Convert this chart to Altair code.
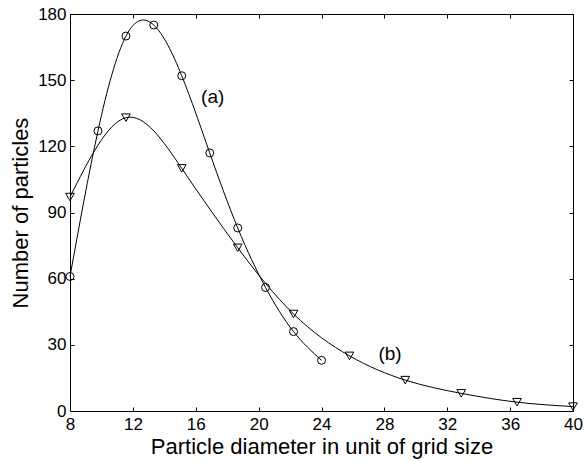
import altair as alt
import pandas as pd

# Series (a): circles
xa = [8, 9.78, 11.56, 13.33, 15.11, 16.89, 18.67, 20.44, 22.22, 24]
ya = [61, 127, 170, 175, 152, 117, 83, 56, 36, 23]
# Series (b): downward triangles
xb = [8, 11.56, 15.11, 18.67, 22.22, 25.78, 29.33, 32.89, 36.44, 40]
yb = [97, 133, 110, 74, 44, 25, 14, 8, 4, 2]

x_ticks = [8, 12, 16, 20, 24, 28, 32, 36, 40]
y_ticks = [0, 30, 60, 90, 120, 150, 180]

label_text = ["(a)", "(b)"]
label_x = [17.08, 28.36]
label_y = [142.5, 25.8]

FONT = "Liberation Sans"

df_a = pd.DataFrame({"x": xa, "y": ya})
df_b = pd.DataFrame({"x": xb, "y": yb})
df_lab = pd.DataFrame({"x": label_x, "y": label_y, "t": label_text})

xscale = alt.Scale(domain=[8, 40], nice=False, zero=False)
yscale = alt.Scale(domain=[0, 180], nice=False)

x_main = alt.X("x:Q", scale=xscale, title="Particle diameter in unit of grid size",
               axis=alt.Axis(values=x_ticks, orient="bottom", offset=-4, tickSize=4,
                             domain=False, grid=False, tickColor="black",
                             labelFont=FONT, labelFontSize=17, labelColor="black",
                             labelPadding=5, labelFlush=False,
                             titleFont=FONT, titleFontSize=22, titleFontWeight="normal",
                             titleColor="black", titlePadding=4))
y_main = alt.Y("y:Q", scale=yscale, title="Number of particles",
               axis=alt.Axis(values=y_ticks, orient="left", offset=-4, tickSize=4,
                             domain=False, grid=False, tickColor="black",
                             labelFont=FONT, labelFontSize=17, labelColor="black",
                             labelPadding=4, labelFlush=False,
                             titleFont=FONT, titleFontSize=22, titleFontWeight="normal",
                             titleColor="black", titlePadding=5))

x_plain = alt.X("x:Q", scale=xscale, axis=None)
y_plain = alt.Y("y:Q", scale=yscale, axis=None)

line_a = alt.Chart(df_a).mark_line(color="black", strokeWidth=1, interpolate="natural").encode(x=x_main, y=y_main)
pts_a = alt.Chart(df_a).mark_point(shape="circle", filled=False, color="black", size=64, strokeWidth=1, opacity=1).encode(x=x_plain, y=y_plain)
line_b = alt.Chart(df_b).mark_line(color="black", strokeWidth=1, interpolate="natural").encode(x=x_plain, y=y_plain)
pts_b = alt.Chart(df_b).mark_point(shape="triangle-down", filled=False, color="black", size=75, strokeWidth=1, opacity=1).encode(x=x_plain, y=y_plain)
labels = alt.Chart(df_lab).mark_text(font=FONT, fontSize=19, color="black", align="center", baseline="middle").encode(
    x=x_plain, y=y_plain, text="t:N")

frame_axes = alt.Chart(df_a).mark_point(opacity=0).encode(
    x=alt.X("x:Q", scale=xscale,
            axis=alt.Axis(values=x_ticks, orient="top", offset=-4, tickSize=4, domain=False,
                          grid=False, labels=False, title=None, tickColor="black")),
    y=alt.Y("y:Q", scale=yscale,
            axis=alt.Axis(values=y_ticks, orient="right", offset=-4, tickSize=4, domain=False,
                          grid=False, labels=False, title=None, tickColor="black")),
)

chart = alt.layer(line_a, pts_a, line_b, pts_b, labels, frame_axes).resolve_axis(
    x="independent", y="independent"
).properties(
    width=503, height=397,
    autosize=alt.AutoSizeParams(type="none"),
    padding={"left": 70, "top": 14, "right": 12, "bottom": 50},
    background="white",
).configure_view(stroke="black", strokeWidth=1)

chart.save("out.html", embed_options={"renderer": "svg", "actions": False})
